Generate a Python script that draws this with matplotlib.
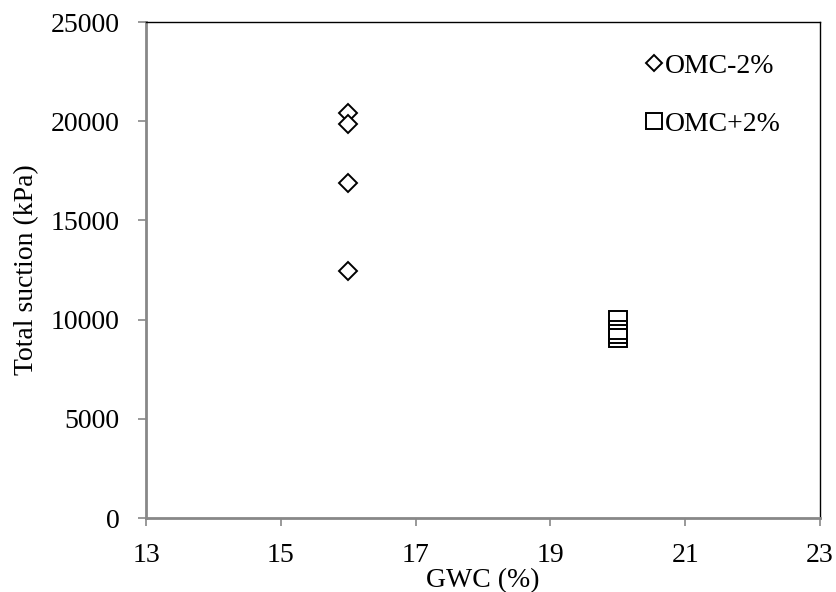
import matplotlib.pyplot as plt

# data
gwc_minus = [16, 16, 16, 16]
suction_minus = [20400, 19850, 16900, 12450]
gwc_plus = [20, 20, 20, 20]
suction_plus = [9980, 9480, 9280, 9080]

x_ticks = [13, 15, 17, 19, 21, 23]
y_ticks = [0, 5000, 10000, 15000, 20000, 25000]

plt.rcParams['font.family'] = ['Liberation Serif', 'DejaVu Serif']

fig = plt.figure(figsize=(8.37, 5.92), dpi=100)
ax = fig.add_axes([146 / 837, 1 - 518 / 592, 674 / 837, 496 / 592])

ax.plot(gwc_minus, suction_minus, 'D', ms=9.0, mfc='white', mec='black', mew=1.4,
        linestyle='none', label='OMC-2%')
ax.plot(gwc_plus, suction_plus, 's', ms=13.5, mfc='none', mec='black', mew=1.4,
        linestyle='none', label='OMC+2%')

ax.set_xlim(13, 23)
ax.set_ylim(0, 25000)
ax.set_xticks(x_ticks)
ax.set_yticks(y_ticks)
ax.tick_params(direction='out', length=6, width=1.2, color='#888888',
               labelsize=20, pad=13)
ax.tick_params(axis='x', pad=12)

for side in ['left', 'bottom']:
    ax.spines[side].set_color('#888888')
    ax.spines[side].set_linewidth(2)
for side in ['top', 'right']:
    ax.spines[side].set_color('black')
    ax.spines[side].set_linewidth(1)

ax.set_xlabel('GWC (%)', fontsize=20, labelpad=0)
ax.set_ylabel('Total suction (kPa)', fontsize=20, labelpad=8)

ax.legend(loc='upper left', bbox_to_anchor=(0.72, 0.964), frameon=False,
          fontsize=20, markerscale=0.85, handlelength=0.6, handletextpad=0.1,
          labelspacing=1.17, borderpad=0)

fig.savefig('out.png', dpi=100)
